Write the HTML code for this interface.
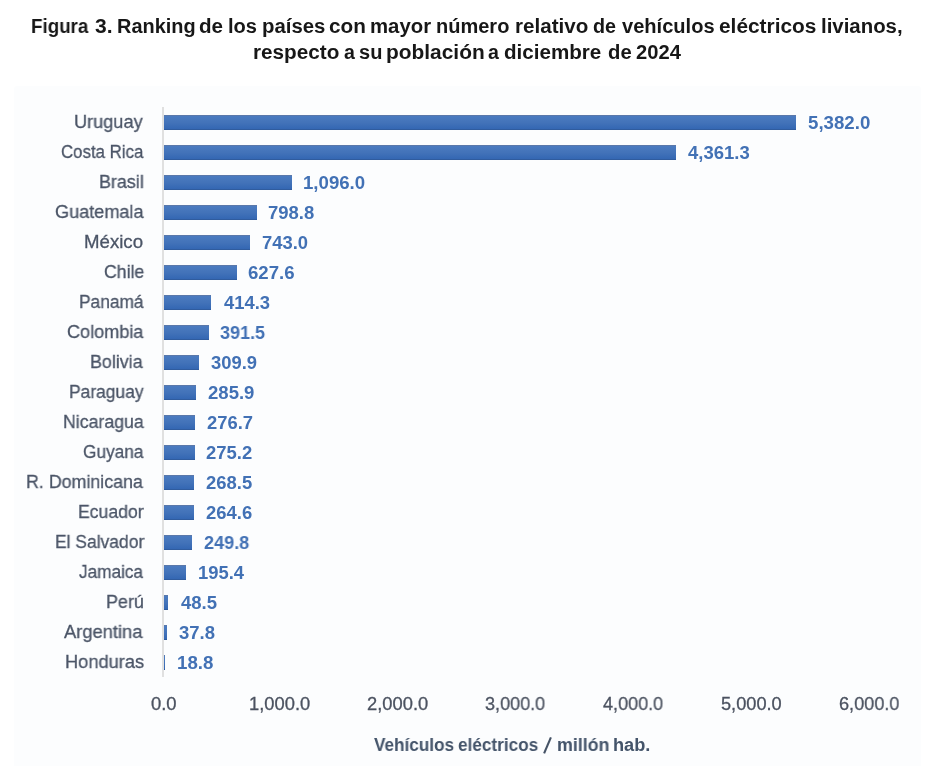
<!DOCTYPE html><html><head><meta charset="utf-8"><style>
*{margin:0;padding:0;box-sizing:border-box}
html,body{width:934px;height:766px;overflow:hidden;background:#fff}
body{position:relative;font-family:"Liberation Sans",sans-serif}
.area{position:absolute;left:14px;top:86px;width:907px;height:680px;background:#fcfdfe;border-radius:3px 3px 0 0}
.t{position:absolute;white-space:nowrap;line-height:1;transform-origin:0 0;will-change:transform}
.bar{position:absolute;height:15px;background:linear-gradient(#5a78aa 0,#5a78aa 1px,#4b7bc0 1px,#4373b9 7.5px,#3467b3 14px,#305c9e 14px,#305c9e 15px)}
.axis{position:absolute;left:162px;top:107px;width:2px;height:570px;background:#e0e0e0}
.cat{font-size:18.5px;color:#4b5567;font-weight:normal;-webkit-text-stroke:0.3px #4b5567}
.val{font-size:18.4px;color:#4271b5;font-weight:bold;-webkit-text-stroke:0.0px #4271b5}
.tick{font-size:18.2px;color:#4b5260;font-weight:normal;-webkit-text-stroke:0.3px #4b5260}
.axt{font-size:18.0px;color:#44546a;font-weight:bold;-webkit-text-stroke:0.0px #44546a}
.title{font-size:19.6px;color:#171717;font-weight:bold;-webkit-text-stroke:0.0px #171717}

</style></head><body>
<div class="area"></div>
<div class="bar" style="left:162.71px;top:114.50px;width:633.78px"></div>
<div class="bar" style="left:162.71px;top:144.50px;width:513.59px"></div>
<div class="bar" style="left:162.71px;top:174.50px;width:129.06px"></div>
<div class="bar" style="left:162.71px;top:204.50px;width:94.07px"></div>
<div class="bar" style="left:162.71px;top:234.50px;width:87.50px"></div>
<div class="bar" style="left:162.71px;top:264.50px;width:73.91px"></div>
<div class="bar" style="left:162.71px;top:294.50px;width:48.79px"></div>
<div class="bar" style="left:162.71px;top:324.50px;width:46.10px"></div>
<div class="bar" style="left:162.71px;top:354.50px;width:36.49px"></div>
<div class="bar" style="left:162.71px;top:384.50px;width:33.67px"></div>
<div class="bar" style="left:162.71px;top:414.50px;width:32.58px"></div>
<div class="bar" style="left:162.71px;top:444.50px;width:32.41px"></div>
<div class="bar" style="left:162.71px;top:474.50px;width:31.62px"></div>
<div class="bar" style="left:162.71px;top:504.50px;width:31.16px"></div>
<div class="bar" style="left:162.71px;top:534.50px;width:29.42px"></div>
<div class="bar" style="left:162.71px;top:564.50px;width:23.01px"></div>
<div class="bar" style="left:162.71px;top:594.50px;width:5.71px"></div>
<div class="bar" style="left:162.71px;top:624.50px;width:4.45px"></div>
<div class="bar" style="left:162.71px;top:654.50px;width:2.21px"></div>
<div class="axis"></div>
<div class="t cat" id="c0" style="left:74.32px;top:113.27px;transform:scaleX(0.9810)">Uruguay</div>
<div class="t cat" id="c1" style="left:60.65px;top:143.27px;transform:scaleX(0.9096)">Costa Rica</div>
<div class="t cat" id="c2" style="left:99.35px;top:173.27px;transform:scaleX(0.9676)">Brasil</div>
<div class="t cat" id="c3" style="left:54.56px;top:203.27px;transform:scaleX(0.9785)">Guatemala</div>
<div class="t cat" id="c4" style="left:84.42px;top:233.27px;transform:scaleX(1.0072)">México</div>
<div class="t cat" id="c5" style="left:103.58px;top:263.27px;transform:scaleX(0.9561)">Chile</div>
<div class="t cat" id="c6" style="left:78.58px;top:293.27px;transform:scaleX(0.9368)">Panamá</div>
<div class="t cat" id="c7" style="left:67.08px;top:323.27px;transform:scaleX(0.9777)">Colombia</div>
<div class="t cat" id="c8" style="left:90.06px;top:353.27px;transform:scaleX(0.9662)">Bolivia</div>
<div class="t cat" id="c9" style="left:68.58px;top:383.27px;transform:scaleX(0.9408)">Paraguay</div>
<div class="t cat" id="c10" style="left:62.64px;top:413.27px;transform:scaleX(0.9577)">Nicaragua</div>
<div class="t cat" id="c11" style="left:82.64px;top:443.27px;transform:scaleX(0.9322)">Guyana</div>
<div class="t cat" id="c12" style="left:26.08px;top:473.27px;transform:scaleX(0.9632)">R. Dominicana</div>
<div class="t cat" id="c13" style="left:77.66px;top:503.28px;transform:scaleX(0.9515)">Ecuador</div>
<div class="t cat" id="c14" style="left:55.07px;top:533.28px;transform:scaleX(0.9432)">El Salvador</div>
<div class="t cat" id="c15" style="left:79.11px;top:563.28px;transform:scaleX(0.9298)">Jamaica</div>
<div class="t cat" id="c16" style="left:106.40px;top:593.28px;transform:scaleX(0.9703)">Perú</div>
<div class="t cat" id="c17" style="left:64.15px;top:623.28px;transform:scaleX(0.9908)">Argentina</div>
<div class="t cat" id="c18" style="left:64.83px;top:653.28px;transform:scaleX(0.9857)">Honduras</div>
<div class="t val" id="v0" style="left:808.29px;top:114.46px;transform:scaleX(1.0152)">5,382.0</div>
<div class="t val" id="v1" style="left:687.84px;top:144.46px;transform:scaleX(1.0058)">4,361.3</div>
<div class="t val" id="v2" style="left:302.86px;top:174.46px;transform:scaleX(1.0131)">1,096.0</div>
<div class="t val" id="v3" style="left:268.12px;top:204.46px;transform:scaleX(1.0050)">798.8</div>
<div class="t val" id="v4" style="left:262.40px;top:234.46px;transform:scaleX(0.9954)">743.0</div>
<div class="t val" id="v5" style="left:247.94px;top:264.46px;transform:scaleX(1.0128)">627.6</div>
<div class="t val" id="v6" style="left:223.60px;top:294.46px;transform:scaleX(0.9944)">414.3</div>
<div class="t val" id="v7" style="left:220.35px;top:324.46px;transform:scaleX(0.9789)">391.5</div>
<div class="t val" id="v8" style="left:211.32px;top:354.46px;transform:scaleX(0.9921)">309.9</div>
<div class="t val" id="v9" style="left:208.01px;top:384.46px;transform:scaleX(1.0092)">285.9</div>
<div class="t val" id="v10" style="left:206.59px;top:414.46px;transform:scaleX(0.9898)">276.7</div>
<div class="t val" id="v11" style="left:206.03px;top:444.46px;transform:scaleX(1.0036)">275.2</div>
<div class="t val" id="v12" style="left:205.55px;top:474.46px;transform:scaleX(1.0027)">268.5</div>
<div class="t val" id="v13" style="left:205.54px;top:504.46px;transform:scaleX(1.0034)">264.6</div>
<div class="t val" id="v14" style="left:204.06px;top:534.46px;transform:scaleX(0.9829)">249.8</div>
<div class="t val" id="v15" style="left:197.53px;top:564.46px;transform:scaleX(0.9995)">195.4</div>
<div class="t val" id="v16" style="left:181.09px;top:594.46px;transform:scaleX(1.0075)">48.5</div>
<div class="t val" id="v17" style="left:179.09px;top:624.46px;transform:scaleX(1.0052)">37.8</div>
<div class="t val" id="v18" style="left:177.35px;top:654.46px;transform:scaleX(1.0169)">18.8</div>
<div class="t tick" id="k0" style="left:150.94px;top:694.53px;transform:scaleX(1.0133)">0.0</div>
<div class="t tick" id="k1" style="left:249.46px;top:694.53px;transform:scaleX(1.0081)">1,000.0</div>
<div class="t tick" id="k2" style="left:366.96px;top:694.53px;transform:scaleX(1.0081)">2,000.0</div>
<div class="t tick" id="k3" style="left:485.38px;top:694.53px;transform:scaleX(0.9913)">3,000.0</div>
<div class="t tick" id="k4" style="left:603.43px;top:694.53px;transform:scaleX(0.9911)">4,000.0</div>
<div class="t tick" id="k5" style="left:721.06px;top:694.53px;transform:scaleX(0.9992)">5,000.0</div>
<div class="t tick" id="k6" style="left:838.66px;top:694.53px;transform:scaleX(0.9952)">6,000.0</div>
<div class="t title" id="t1_0" style="left:31.47px;top:17.34px;transform:scaleX(0.9570)">Figura</div>
<div class="t title" id="t1_1" style="left:94.86px;top:17.34px;transform:scaleX(1.0738)">3.</div>
<div class="t title" id="t1_2" style="left:116.68px;top:17.34px;transform:scaleX(1.0170)">Ranking</div>
<div class="t title" id="t1_3" style="left:199.04px;top:17.34px;transform:scaleX(1.0518)">de</div>
<div class="t title" id="t1_4" style="left:227.99px;top:17.34px;transform:scaleX(1.0256)">los</div>
<div class="t title" id="t1_5" style="left:261.53px;top:17.34px;transform:scaleX(1.0378)">países</div>
<div class="t title" id="t1_6" style="left:329.22px;top:17.34px;transform:scaleX(1.0589)">con</div>
<div class="t title" id="t1_7" style="left:369.63px;top:17.34px;transform:scaleX(1.0391)">mayor</div>
<div class="t title" id="t1_8" style="left:435.51px;top:17.34px;transform:scaleX(1.0214)">número</div>
<div class="t title" id="t1_9" style="left:514.80px;top:17.34px;transform:scaleX(1.0510)">relativo</div>
<div class="t title" id="t1_10" style="left:593.34px;top:17.34px;transform:scaleX(1.0072)">de</div>
<div class="t title" id="t1_11" style="left:621.70px;top:17.34px;transform:scaleX(1.0240)">vehículos</div>
<div class="t title" id="t1_12" style="left:719.20px;top:17.34px;transform:scaleX(1.0640)">eléctricos</div>
<div class="t title" id="t1_13" style="left:821.11px;top:17.34px;transform:scaleX(1.0412)">livianos,</div>
<div class="t title" id="t2_0" style="left:252.76px;top:43.34px;transform:scaleX(1.0570)">respecto</div>
<div class="t title" id="t2_1" style="left:343.65px;top:43.34px;transform:scaleX(0.9827)">a</div>
<div class="t title" id="t2_2" style="left:358.99px;top:43.34px;transform:scaleX(1.0210)">su</div>
<div class="t title" id="t2_3" style="left:385.95px;top:43.34px;transform:scaleX(1.0662)">población</div>
<div class="t title" id="t2_4" style="left:488.27px;top:43.34px;transform:scaleX(0.9738)">a</div>
<div class="t title" id="t2_5" style="left:504.44px;top:43.34px;transform:scaleX(1.0515)">diciembre</div>
<div class="t title" id="t2_6" style="left:607.68px;top:43.34px;transform:scaleX(1.0341)">de</div>
<div class="t title" id="t2_7" style="left:635.51px;top:43.34px;transform:scaleX(1.0289)">2024</div>
<div class="t axt" id="ax_0" style="left:374.42px;top:736.20px;transform:scaleX(0.9534)">Vehículos</div>
<div class="t axt" id="ax_1" style="left:458.49px;top:736.20px;transform:scaleX(0.9550)">eléctricos</div>
<div class="t axt" id="ax_2" style="left:556.54px;top:736.20px;transform:scaleX(0.9892)">millón</div>
<div class="t axt" id="ax_3" style="left:612.96px;top:736.20px;transform:scaleX(1.0107)">hab.</div>
<svg style="position:absolute;left:0;top:0" width="934" height="766"><line x1="550.9" y1="737.4" x2="544.1" y2="753.4" stroke="#455366" stroke-width="2.1"/></svg>
</body></html>
